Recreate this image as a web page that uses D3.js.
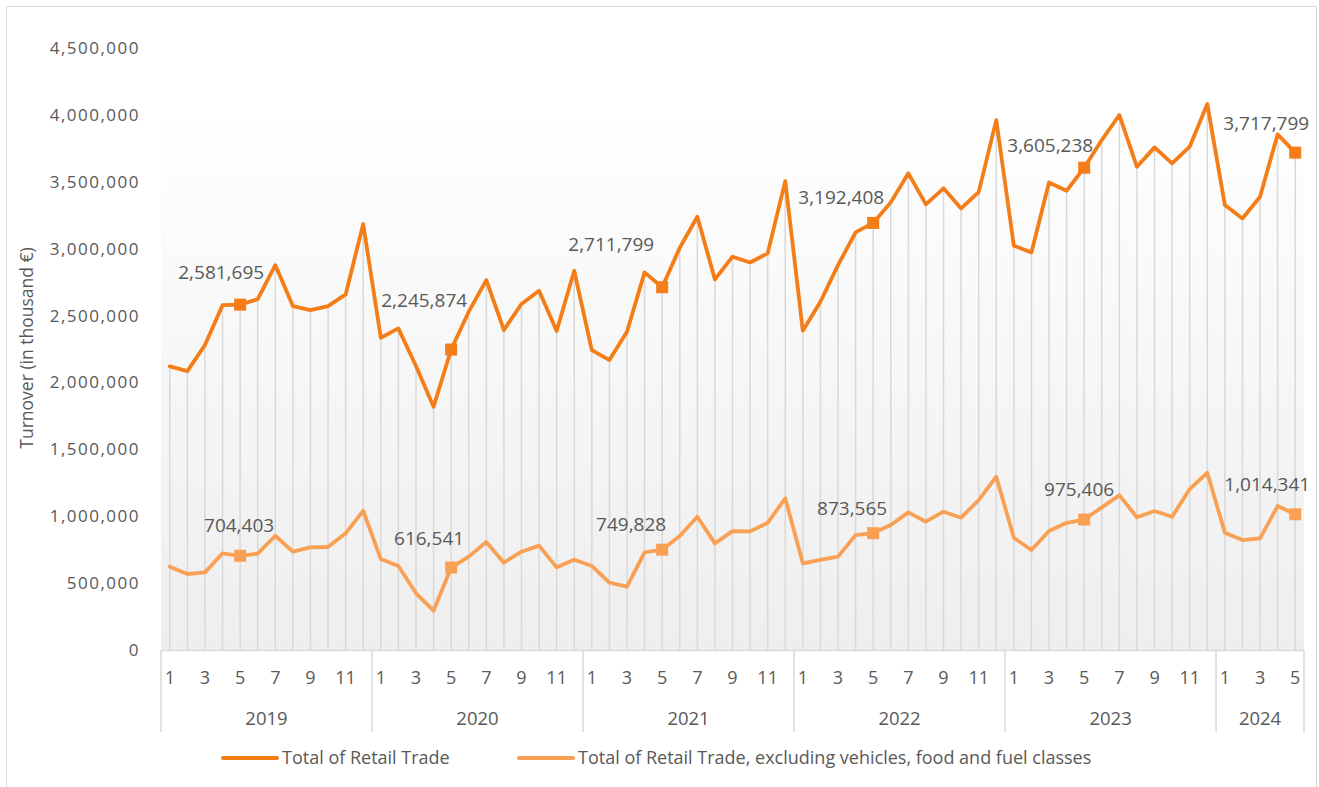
<!DOCTYPE html>
<html>
<head>
<meta charset="utf-8">
<script src="https://cdn.jsdelivr.net/npm/d3@7"></script>
<style>
  body { margin: 0; background: #fff; }
  text { font-family: "Open Sans", sans-serif; fill: #595959; }
</style>
</head>
<body>
<svg width="1319" height="787"></svg>
<script>
// monthly turnover, Jan 2019 .. May 2024 (thousand €)
var years = [2019, 2020, 2021, 2022, 2023, 2024];
var monthsInYear = [12, 12, 12, 12, 12, 5];
var yTicks = [0, 500000, 1000000, 1500000, 2000000, 2500000, 3000000, 3500000, 4000000, 4500000];

var totalRetail = [
    2120000, 2085000, 2280000, 2578000, 2581695, 2623000, 2877000, 2571000, 2541000, 2571000, 2658000, 3184000,
    2334000, 2404000, 2123000, 1818000, 2245874, 2529000, 2765000, 2392000, 2586000, 2686000, 2384000, 2835000,
    2242000, 2167000, 2379000, 2823000, 2711799, 3007000, 3239000, 2770000, 2940000, 2897000, 2965000, 3505000,
    2387000, 2603000, 2877000, 3122000, 3192408, 3346000, 3563000, 3331000, 3451000, 3301000, 3423000, 3961000,
    3022000, 2972000, 3495000, 3433000, 3605238, 3812000, 3999000, 3612000, 3757000, 3637000, 3762000, 4081000,
    3326000, 3226000, 3388000, 3854000, 3717799
];

var exclVehFoodFuel = [
    623000, 568000, 580000, 723000, 704403, 720000, 854000, 735000, 767000, 770000, 872000, 1041000,
    680000, 628000, 424000, 294000, 616541, 698000, 807000, 653000, 735000, 780000, 618000, 675000,
    628000, 503000, 473000, 730000, 749828, 852000, 996000, 797000, 889000, 887000, 951000, 1134000,
    648000, 673000, 698000, 859000, 873565, 934000, 1029000, 959000, 1034000, 989000, 1121000, 1295000,
    839000, 747000, 889000, 951000, 975406, 1066000, 1156000, 992000, 1039000, 996000, 1203000, 1325000,
    877000, 822000, 835000, 1076000, 1014341
];

var seriesNames = ["Total of Retail Trade",
    "Total of Retail Trade, excluding vehicles, food and fuel classes"];
var colors = ["#f47d18", "#f8a155"];

// May of every year carries a marker + label
var labelled = [4, 16, 28, 40, 52, 64];
// hand placed label offsets (end anchored), like in the original
var topNudge = [[24, -26], [16, -43], [-8, -36], [11, -19], [9, -16], [14, -23]];
var lowNudge = [[34, -24], [13, -23], [4, -19], [14, -18], [30, -24], [15, -23]];

// build month list
var months = [];
years.forEach(function (y, yi) {
    for (var m = 1; m <= monthsInYear[yi]; m++) months.push({ year: y, month: m });
});

var svg = d3.select("svg");

// outer chart frame
svg.append("rect")
    .attr("x", 6.5).attr("y", 6.5)
    .attr("width", 1310).attr("height", 800)
    .attr("fill", "none").attr("stroke", "#d9d9d9");

var x = d3.scaleBand()
    .domain(d3.range(months.length))
    .range([161, 1304]);

var y = d3.scaleLinear()
    .domain([0, 4500000])
    .range([650, 48]);

// plot background gradient
var grad = svg.append("defs").append("linearGradient")
    .attr("id", "bg").attr("x1", 0).attr("y1", 0).attr("x2", 0).attr("y2", 1);
grad.append("stop").attr("offset", "0%").attr("stop-color", "#fefefe");
grad.append("stop").attr("offset", "100%").attr("stop-color", "#eeeeee");

svg.append("rect")
    .attr("x", 161).attr("y", 126)
    .attr("width", 1304 - 161).attr("height", 650 - 126)
    .attr("fill", "url(#bg)");

function cx(i) { return x(i) + x.bandwidth() / 2; }

// drop lines from the top series
svg.append("g")
    .selectAll("line")
    .data(totalRetail)
    .enter()
    .append("line")
    .attr("x1", function (d, i) { return cx(i); })
    .attr("x2", function (d, i) { return cx(i); })
    .attr("y1", function (d) { return y(d); })
    .attr("y2", y(0))
    .attr("stroke", "#d9d9d9")
    .attr("stroke-width", 1.5);

// y axis
var yAxis = svg.append("g")
    .attr("transform", "translate(161,0)")
    .call(d3.axisLeft(y).tickValues(yTicks).tickFormat(d3.format(",")).tickSize(0).tickPadding(21));
yAxis.select(".domain").remove();
yAxis.selectAll("text")
    .style("font-family", "'Open Sans', sans-serif")
    .style("font-size", "17px")
    .style("letter-spacing", "1.5px")
    .attr("fill", "#595959");

svg.append("text")
    .attr("transform", "translate(33,348) rotate(-90)")
    .attr("text-anchor", "middle")
    .style("font-size", "17.5px")
    .text("Turnover (in thousand €)");

// category axis: baseline, year separators, month + year labels
var axisG = svg.append("g");
axisG.append("line")
    .attr("x1", 161).attr("x2", 1304)
    .attr("y1", 650.5).attr("y2", 650.5)
    .attr("stroke", "#d9d9d9").attr("stroke-width", 1.5);

var start = 0;
var bounds = [];
years.forEach(function (yr, yi) {
    bounds.push({ year: yr, from: start, to: start + monthsInYear[yi] });
    start += monthsInYear[yi];
});

axisG.selectAll("line.sep")
    .data(bounds.map(function (b) { return b.from; }).concat([months.length]))
    .enter()
    .append("line")
    .attr("class", "sep")
    .attr("x1", function (d) { return d < months.length ? x(d) : x.range()[1]; })
    .attr("x2", function (d) { return d < months.length ? x(d) : x.range()[1]; })
    .attr("y1", 650).attr("y2", 732)
    .attr("stroke", "#d9d9d9").attr("stroke-width", 1.5);

axisG.selectAll("text.month")
    .data(months.filter(function (m) { return m.month % 2 === 1; }))
    .enter()
    .append("text")
    .attr("class", "month")
    .attr("x", function (m) { return cx(months.indexOf(m)); })
    .attr("y", 684)
    .attr("text-anchor", "middle")
    .style("font-size", "18px")
    .text(function (m) { return m.month; });

axisG.selectAll("text.year")
    .data(bounds)
    .enter()
    .append("text")
    .attr("class", "year")
    .attr("x", function (b) { return (x(b.from) + (b.to < months.length ? x(b.to) : x.range()[1])) / 2; })
    .attr("y", 725)
    .attr("text-anchor", "middle")
    .style("font-size", "18.5px")
    .text(function (b) { return b.year; });

// lines
var line = d3.line()
    .x(function (d, i) { return cx(i); })
    .y(function (d) { return y(d); });

[exclVehFoodFuel, totalRetail].forEach(function (series) {
    var c = series === totalRetail ? colors[0] : colors[1];
    svg.append("path")
        .datum(series)
        .attr("d", line)
        .attr("fill", "none")
        .attr("stroke", c)
        .attr("stroke-width", 3.8)
        .attr("stroke-linejoin", "round")
        .attr("stroke-linecap", "round");
});

// markers and labels
function addMarks(series, color, nudge) {
    var g = svg.append("g");
    g.selectAll("rect")
        .data(labelled)
        .enter()
        .append("rect")
        .attr("x", function (i) { return cx(i) - 6; })
        .attr("y", function (i) { return y(series[i]) - 6; })
        .attr("width", 12).attr("height", 12)
        .attr("fill", color);
    g.selectAll("text")
        .data(labelled)
        .enter()
        .append("text")
        .attr("x", function (i, k) { return cx(i) + nudge[k][0]; })
        .attr("y", function (i, k) { return y(series[i]) + nudge[k][1]; })
        .attr("text-anchor", "end")
        .style("font-size", "19px")
        .text(function (i) { return d3.format(",")(series[i]); });
}
addMarks(totalRetail, colors[0], topNudge);
addMarks(exclVehFoodFuel, colors[1], lowNudge);

// legend
var legendX = [223, 519];
var legend = svg.append("g")
    .selectAll("g")
    .data(seriesNames)
    .enter()
    .append("g")
    .attr("transform", function (d, i) { return "translate(" + legendX[i] + ",758)"; });
legend.append("line")
    .attr("x1", 0).attr("x2", 54)
    .attr("stroke", function (d, i) { return colors[i]; })
    .attr("stroke-width", 4)
    .attr("stroke-linecap", "round");
legend.append("text")
    .attr("x", 59).attr("y", 6)
    .style("font-size", "18px")
    .text(function (d) { return d; });
</script>
</body>
</html>
